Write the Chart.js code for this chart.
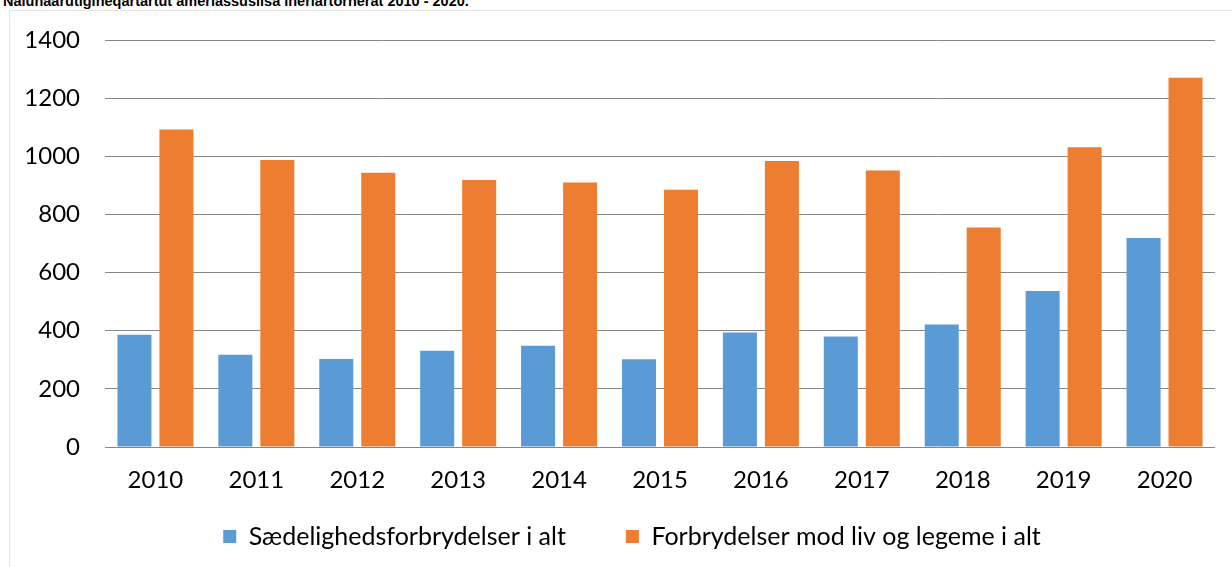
<!DOCTYPE html>
<html>
<head>
<meta charset="utf-8">
<title>Nalunaarutigineqartartut amerlassusiisa ineriartornerat 2010 - 2020.</title>
<script src="https://cdn.jsdelivr.net/npm/chart.js@4/dist/chart.umd.min.js"></script>
<style>
  html, body { margin: 0; padding: 0; background: #ffffff; overflow: hidden; }
  body { width: 1232px; height: 567px; position: relative; }
  #frame {
    position: absolute; left: 9px; top: 10px; width: 1300px; height: 600px;
    border-top: 1px solid #e4e4e4; border-left: 1px solid #e4e4e4;
  }
  #title {
    position: absolute; left: 3px; top: -6px; white-space: nowrap;
    font-family: "Liberation Sans", Arial, sans-serif; font-weight: bold;
    font-size: 14.5px; line-height: 14px; color: #000000;
  }
  #wrap { position: absolute; left: 0; top: 0; width: 1264px; height: 567px; }
</style>
</head>
<body>
<div id="frame"></div>
<div id="title">Nalunaarutigineqartartut amerlassusiisa ineriartornerat 2010 - 2020.</div>
<div id="wrap"><canvas id="chart"></canvas></div>
<script>
// Years on the category axis
const years = ['2010', '2011', '2012', '2013', '2014', '2015', '2016', '2017', '2018', '2019', '2020'];

// Series names
const seriesNames = ['Sædelighedsforbrydelser i alt', 'Forbrydelser mod liv og legeme i alt'];

// Reported cases per year
const saedelighed = [386, 317, 303, 331, 348, 302, 394, 380, 421, 537, 719];
const livOgLegeme = [1092, 987, 943, 918, 910, 885, 984, 951, 755, 1031, 1270];

// Value axis ticks
const yTicks = [0, 200, 400, 600, 800, 1000, 1200, 1400];

const FONT = 'Lato, "Open Sans", sans-serif';

const ctx = document.getElementById('chart');
new Chart(ctx, {
  type: 'bar',
  data: {
    labels: years,
    datasets: [
      { label: seriesNames[0], data: saedelighed, backgroundColor: '#5B9BD5', borderWidth: 0 },
      { label: seriesNames[1], data: livOgLegeme, backgroundColor: '#ED7D31', borderWidth: 0 }
    ]
  },
  options: {
    responsive: true,
    maintainAspectRatio: false,
    animation: false,
    categoryPercentage: 0.8325,
    barPercentage: 0.81,
    layout: { padding: { top: 40, left: 0, right: 0, bottom: 8 } },
    plugins: {
      title: { display: false },
      tooltip: { enabled: false },
      legend: {
        position: 'bottom',
        labels: {
          boxWidth: 13,
          boxHeight: 13,
          padding: 60,
          color: '#000000',
          font: { family: FONT, size: 25, lineHeight: 1.2 }
        }
      }
    },
    scales: {
      x: {
        grid: { display: false, drawTicks: false },
        border: { display: false },
        ticks: {
          color: '#000000',
          mirror: true,
          padding: -48,
          font: { family: FONT, size: 24, lineHeight: 1.2 }
        },
        afterFit(scale) {
          scale.height = 17;
          scale.paddingRight = 49;
        }
      },
      y: {
        min: 0,
        max: 1400,
        afterBuildTicks(scale) {
          scale.ticks = yTicks.map(v => ({ value: v }));
        },
        grid: { color: '#878787', lineWidth: 1, drawTicks: false },
        border: { display: false },
        ticks: {
          color: '#000000',
          padding: 25,
          font: { family: FONT, size: 24, lineHeight: 1.2 },
          callback: v => String(v)
        },
        afterFit(scale) {
          scale.width = 105;
        }
      }
    }
  }
});
</script>
</body>
</html>
